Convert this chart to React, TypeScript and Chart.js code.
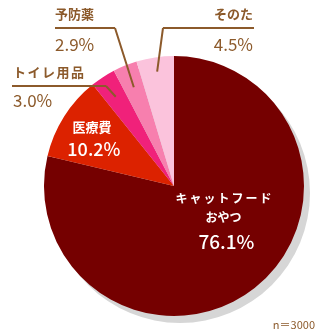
import React, { useEffect, useRef } from "react";
import { Chart, registerables } from "chart.js";

Chart.register(...registerables);

const categories = ["キャットフード\nおやつ", "医療費", "トイレ用品", "予防薬", "そのた"];
const values = [76.1, 10.2, 3.0, 2.9, 4.5];
const valueLabels = ["76.1%", "10.2%", "3.0%", "2.9%", "4.5%"];
const colors = ["#750000", "#dc2200", "#f0217a", "#f77fae", "#fbc3dc"];
const noteText = "n＝3000";

const BROWN = "#8c5a2b";
const FONT = "'Noto Sans CJK JP', 'Noto Sans', sans-serif";

const shadowPlugin = {
  id: "pieShadow",
  beforeDatasetsDraw(chart: any) {
    const arc = chart.getDatasetMeta(0).data[0];
    if (!arc) return;
    const ctx = chart.ctx;
    ctx.save();
    ctx.fillStyle = "#d6d6d6";
    ctx.beginPath();
    ctx.arc(arc.x + 6, arc.y + 7, arc.outerRadius, 0, Math.PI * 2);
    ctx.fill();
    ctx.restore();
  },
};

const outside: Record<number, any> = {
  2: { elbowX: 106, lineY: 86, x0: 12, x1: 106, tx: 13, align: "left", nameY: 72, valY: 101, rf: 0.82 },
  3: { elbowX: 115, lineY: 28, x0: 55, x1: 115, tx: 55, align: "left", nameY: 14, valY: 45, rf: 0.82 },
  4: { elbowX: 163, lineY: 28, x0: 163, x1: 254, tx: 253, align: "right", nameY: 14, valY: 45, rf: 0.89 },
};

const labelPlugin = {
  id: "pieLabels",
  afterDatasetsDraw(chart: any) {
    const ctx = chart.ctx;
    const meta = chart.getDatasetMeta(0);
    ctx.save();
    ctx.textBaseline = "middle";
    meta.data.forEach((arc: any, i: number) => {
      const mid = (arc.startAngle + arc.endAngle) / 2;
      const o = outside[i];
      if (o) {
        const px = arc.x + Math.cos(mid) * arc.outerRadius * o.rf;
        const py = arc.y + Math.sin(mid) * arc.outerRadius * o.rf;
        ctx.strokeStyle = BROWN;
        ctx.lineWidth = 2;
        ctx.beginPath();
        ctx.moveTo(o.x0, o.lineY);
        ctx.lineTo(o.x1, o.lineY);
        ctx.moveTo(o.elbowX, o.lineY);
        ctx.lineTo(px, py);
        ctx.stroke();
        ctx.fillStyle = BROWN;
        ctx.textAlign = o.align;
        ctx.font = `bold 13px ${FONT}`;
        const name = categories[i];
        if (i === 2) {
          let x = o.tx;
          for (const ch of name) {
            ctx.fillText(ch, x, o.nameY);
            x += ctx.measureText(ch).width + 1.5;
          }
        } else {
          ctx.fillText(name, o.tx, o.nameY);
        }
        ctx.font = `17px ${FONT}`;
        ctx.fillText(valueLabels[i], o.tx, o.valY);
      }
    });
    ctx.fillStyle = "#ffffff";
    ctx.textAlign = "center";
    const a1 = meta.data[1];
    if (a1) {
      const mid = (a1.startAngle + a1.endAngle) / 2;
      const cx = a1.x + Math.cos(mid) * a1.outerRadius * 0.72;
      const cy = a1.y + Math.sin(mid) * a1.outerRadius * 0.72;
      ctx.font = `bold 13px ${FONT}`;
      ctx.fillText(categories[1], cx - 3, cy - 9);
      ctx.font = `500 18px ${FONT}`;
      ctx.fillText(valueLabels[1], cx - 1, cy + 13);
    }
    const a0 = meta.data[0];
    if (a0) {
      const cx = a0.x + a0.outerRadius * 0.38;
      const cy = a0.y + a0.outerRadius * 0.24;
      ctx.font = `bold 12px ${FONT}`;
      const lines = categories[0].split("\n");
      const l0 = lines[0];
      const sp = 2;
      let w = 0;
      for (const ch of l0) w += ctx.measureText(ch).width + sp;
      w -= sp;
      let x = cx - w / 2;
      ctx.textAlign = "left";
      for (const ch of l0) {
        ctx.fillText(ch, x, cy - 19);
        x += ctx.measureText(ch).width + sp;
      }
      ctx.textAlign = "center";
      ctx.fillText(lines[1], cx, cy);
      ctx.font = `500 19px ${FONT}`;
      ctx.fillText(valueLabels[0], cx + 3, cy + 25);
    }
    ctx.fillStyle = BROWN;
    ctx.font = `11px ${FONT}`;
    ctx.textAlign = "right";
    ctx.fillText(noteText, 315, 325);
    ctx.restore();
  },
};

export default function App() {
  const ref = useRef<HTMLCanvasElement>(null);
  useEffect(() => {
    if (!ref.current) return;
    const chart = new Chart(ref.current, {
      type: "pie",
      data: {
        labels: categories,
        datasets: [
          {
            data: values,
            backgroundColor: colors,
            borderWidth: 0,
          },
        ],
      },
      options: {
        responsive: false,
        animation: false,
        layout: { padding: { left: 44, right: 31, top: 56, bottom: 19 } },
        plugins: {
          legend: { display: false },
          tooltip: { enabled: false },
        },
      },
      plugins: [shadowPlugin, labelPlugin],
    } as any);
    return () => chart.destroy();
  }, []);
  return (
    <div style={{ position: "absolute", left: 0, top: 0, width: 335, height: 335, background: "#fff" }}>
      <canvas ref={ref} width={335} height={335} />
    </div>
  );
}
